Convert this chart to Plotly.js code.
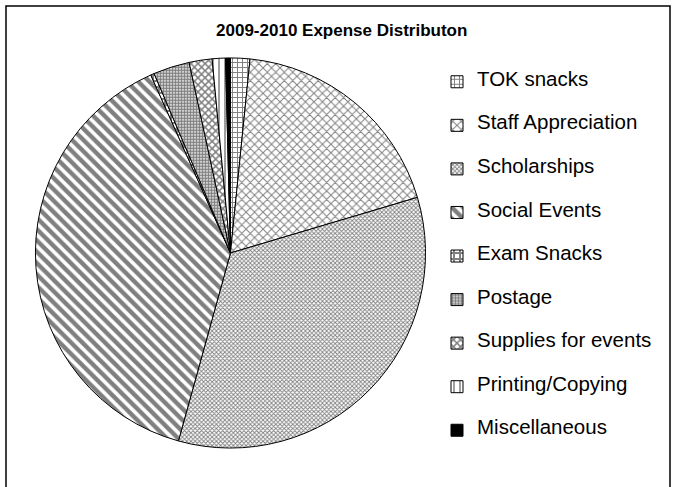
<!DOCTYPE html>
<html>
<head>
<meta charset="utf-8">
<script src="https://cdn.plot.ly/plotly-3.0.1.min.js"></script>
<style>
  html, body { margin: 0; padding: 0; background: #fff; }
  #chart { width: 674px; height: 487px; }
</style>
</head>
<body>
<div id="chart"></div>
<script>
// Data (percent of total, estimated)
const categories = [
  "TOK snacks",
  "Staff Appreciation",
  "Scholarships",
  "Social Events",
  "Exam Snacks",
  "Postage",
  "Supplies for events",
  "Printing/Copying",
  "Miscellaneous"
];
const values = [1.6, 18.8, 33.9, 39.0, 0.3, 3.0, 1.9, 1.1, 0.4];
const chartTitle = "2009-2010 Expense Distributon";

// Styling (not data)
const patternShapes = ["+", "x", "x", "\\", "+", ".", "x", "|", ""];
const patternSizes = [5, 6, 3, 8, 6, 3, 5, 6, 4];
const patternSolidity = [0.35, 0.3, 0.5, 0.55, 0.55, 0.7, 0.5, 0.25, 0.5];
const sliceColors = ["#fff", "#fff", "#fff", "#fff", "#fff", "#fff", "#fff", "#fff", "#000"];

// Legend entries: label centred on a taller row to match the reference spacing
const legendLabels = categories.map(c =>
  "&nbsp;<br><span style='font-size:20.5px'>" + c + "</span><br>&nbsp;");

const trace = {
  type: "pie",
  labels: legendLabels,
  values: values,
  sort: false,
  direction: "clockwise",
  rotation: 0,
  textinfo: "none",
  hoverinfo: "skip",
  domain: { x: [0.0504, 0.6335], y: [0.080, 0.881] },
  marker: {
    colors: sliceColors,
    line: { color: "#000", width: 1 },
    pattern: {
      shape: patternShapes,
      size: patternSizes,
      solidity: patternSolidity,
      fgcolor: "#000",
      bgcolor: "#fff",
      fillmode: "overlay"
    }
  }
};

const layout = {
  width: 674,
  height: 487,
  margin: { l: 0, r: 0, t: 0, b: 0 },
  paper_bgcolor: "#fff",
  font: { family: "Liberation Sans, Arial, sans-serif", color: "#000" },
  title: {
    text: "<b>" + chartTitle + "</b>",
    x: 0.507, xanchor: "center",
    y: 1 - 30 / 487, yanchor: "middle",
    font: { size: 17, family: "Liberation Sans, Arial, sans-serif", color: "#000" }
  },
  showlegend: true,
  legend: {
    x: 437 / 674, xanchor: "left",
    y: 1 - 55 / 487, yanchor: "top",
    font: { size: 10.4, family: "Liberation Sans, Arial, sans-serif", color: "#000" },
    bgcolor: "rgba(0,0,0,0)"
  },
  shapes: [{
    type: "rect", xref: "paper", yref: "paper",
    x0: 6 / 674, x1: 670 / 674, y0: -0.2, y1: 1 - 6 / 487,
    line: { color: "#000", width: 1.5 }, fillcolor: "rgba(0,0,0,0)"
  }]
};

Plotly.newPlot("chart", [trace], layout, { staticPlot: true, displayModeBar: false });
</script>
</body>
</html>
